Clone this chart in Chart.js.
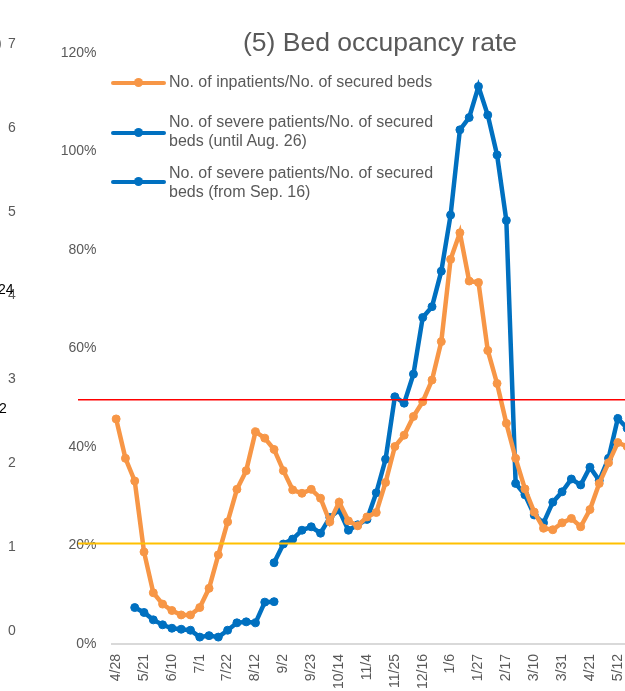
<!DOCTYPE html>
<html>
<head>
<meta charset="utf-8">
<script src="https://cdn.jsdelivr.net/npm/chart.js@4.4.0/dist/chart.umd.min.js"></script>
<style>
html,body{margin:0;padding:0;background:#fff;overflow:hidden;}
#wrap{position:relative;width:625px;height:691px;overflow:hidden;font-family:"Liberation Sans",Arial,sans-serif;color:#595959;}
#c{position:absolute;left:0;top:0;}
#title{position:absolute;left:243px;top:27px;font-size:26.5px;white-space:nowrap;}
.lgline{position:absolute;left:111px;width:55px;height:4px;border-radius:2px;}
.lgdot{position:absolute;width:9px;height:9px;border-radius:50%;}
.lgtext{position:absolute;left:169px;font-size:16px;line-height:18.5px;white-space:nowrap;}
.stray{position:absolute;font-size:14px;line-height:16px;}
</style>
</head>
<body>
<div id="wrap">
  <canvas id="c" width="654" height="691"></canvas>
  <div id="title">(5) Bed occupancy rate</div>
  <div id="legend"></div>
  <div id="stray"></div>
</div>
<script>
//日付（3つおきに表示）
var labels = ["4/28","5/7","5/14","5/21","5/28","6/3","6/10","6/17","6/24","7/1",
  "7/8","7/15","7/22","7/29","8/5","8/12","8/19","8/26","9/2","9/9",
  "9/16","9/23","9/30","10/7","10/14","10/21","10/28","11/4","11/11","11/18",
  "11/25","12/2","12/9","12/16","12/23","12/30","1/6","1/13","1/20","1/27",
  "2/3","2/10","2/17","2/24","3/3","3/10","3/17","3/24","3/31","4/7",
  "4/14","4/21","4/28","5/5","5/12","5/19"];

//入院患者数/確保病床数 (%)
var inpatients = [45.7,37.7,33.1,18.7,10.4,8.1,6.8,5.9,5.9,7.4,
  11.3,18.1,24.8,31.4,35.2,43.1,41.8,39.5,35.2,31.3,
  30.6,31.4,29.6,24.8,28.8,25.0,24.0,25.8,26.7,32.8,
  40.1,42.4,46.2,49.2,53.6,61.4,78.1,83.5,73.7,73.4,
  59.6,52.9,44.8,37.7,31.5,26.8,23.5,23.2,24.6,25.5,
  23.8,27.3,32.6,36.8,40.9,40.1];

//重症患者数/確保病床数 (8/26まで)
var severeOld = [null,null,7.4,6.4,4.9,3.9,3.2,3.0,2.8,1.4,
  1.7,1.4,2.8,4.3,4.5,4.3,8.5,8.6,null,null,
  null,null,null,null,null,null,null,null,null,null,
  null,null,null,null,null,null,null,null,null,null,
  null,null,null,null,null,null,null,null,null,null,
  null,null,null,null,null,null];

//重症患者数/確保病床数 (9/16から)
var severeNew = [null,null,null,null,null,null,null,null,null,null,
  null,null,null,null,null,null,null,16.5,20.3,21.3,
  23.1,23.8,22.5,25.7,27.2,23.1,24.2,25.3,30.7,37.5,
  50.2,48.9,54.8,66.3,68.5,75.7,87.1,104.4,106.9,113.2,
  107.4,99.3,86.0,32.6,30.3,26.2,24.6,28.8,30.9,33.5,
  32.3,35.9,33.2,37.7,45.8,43.8];

var seriesNames = [
  ["No. of inpatients/No. of secured beds"],
  ["No. of severe patients/No. of secured","beds (until Aug. 26)"],
  ["No. of severe patients/No. of secured","beds (from Sep. 16)"]
];
var yTicks = [0,20,40,60,80,100,120];
//基準線
var refLines = [{value:49.6,color:"#ff0000",width:1.5},{value:20.4,color:"#ffc000",width:2}];

var ORANGE = "#f79646", BLUE = "#0070c0", GRAY = "#595959";
var FONT = "'Liberation Sans', Arial, sans-serif";

function lineSet(label, data, color){
  return {label:label, data:data, borderColor:color, backgroundColor:color,
    borderWidth:4.5, pointRadius:4, pointHoverRadius:4, pointBorderWidth:1,
    pointBackgroundColor:color, pointBorderColor:color, tension:0, spanGaps:false};
}

var refPlugin = {
  id:"refLines",
  afterDatasetsDraw:function(chart){
    var ctx = chart.ctx, ys = chart.scales.y;
    for(var i=0;i<refLines.length;i++){
      var py = ys.getPixelForValue(refLines[i].value);
      ctx.save();
      ctx.strokeStyle = refLines[i].color;
      ctx.lineWidth = refLines[i].width;
      ctx.beginPath();
      ctx.moveTo(78, py);
      ctx.lineTo(chart.width, py);
      ctx.stroke();
      ctx.restore();
    }
  }
};

var chart = new Chart(document.getElementById("c").getContext("2d"), {
  type:"line",
  data:{
    labels:labels,
    datasets:[
      lineSet(seriesNames[0].join(" "), inpatients, ORANGE),
      lineSet(seriesNames[1].join(" "), severeOld, BLUE),
      lineSet(seriesNames[2].join(" "), severeNew, BLUE)
    ]
  },
  options:{
    responsive:false,
    animation:false,
    layout:{padding:{top:53,right:9,left:0,bottom:0}},
    plugins:{legend:{display:false},title:{display:false},tooltip:{enabled:false}},
    scales:{
      x:{
        offset:true,
        grid:{display:false,drawTicks:false},
        border:{display:true,color:"#d9d9d9",width:2},
        ticks:{autoSkip:false,minRotation:90,maxRotation:90,padding:10,color:GRAY,
          font:{family:FONT,size:14},
          callback:function(v,i){ return i%3===0 ? labels[i] : ""; }},
        afterFit:function(s){ s.height = 47; }
      },
      y:{
        min:0,max:120,
        grid:{display:false,drawTicks:false},
        border:{display:false},
        afterBuildTicks:function(s){ s.ticks = yTicks.map(function(v){return {value:v};}); },
        ticks:{padding:15,color:GRAY,font:{family:FONT,size:14},
          callback:function(v){ return v+"%"; }},
        afterFit:function(s){ s.width = 111.5; }
      }
    }
  },
  plugins:[refPlugin]
});

//凡例をHTMLで作成
var lg = document.getElementById("legend");
var lineY = [82.7,132.7,181.7];
var textTop = [73.2,113.2,164];
chart.data.datasets.forEach(function(ds,i){
  var l = document.createElement("div");
  l.className = "lgline"; l.style.top = (lineY[i]-2)+"px"; l.style.background = ds.borderColor;
  lg.appendChild(l);
  var d = document.createElement("div");
  d.className = "lgdot"; d.style.left = (138.3-4.5)+"px"; d.style.top = (lineY[i]-4.5)+"px";
  d.style.background = ds.borderColor;
  lg.appendChild(d);
  var t = document.createElement("div");
  t.className = "lgtext"; t.style.top = textTop[i]+"px";
  seriesNames[i].forEach(function(s,j){
    if(j>0) t.appendChild(document.createElement("br"));
    t.appendChild(document.createTextNode(s));
  });
  lg.appendChild(t);
});

//左側にはみ出している隣のグラフの目盛
var stray = [
  {t:")",x:-3,y:43,c:GRAY},{t:"7",x:8,y:43,c:GRAY},{t:"6",x:8,y:127,c:GRAY},
  {t:"5",x:8,y:211,c:GRAY},{t:"4",x:8,y:294,c:GRAY},{t:"3",x:8,y:378,c:GRAY},
  {t:"2",x:8,y:462,c:GRAY},{t:"1",x:8,y:546,c:GRAY},{t:"0",x:8,y:630,c:GRAY},
  {t:"24",x:-2,y:289,c:"#000"},{t:"2",x:-1,y:408,c:"#000"}
];
var sw = document.getElementById("stray");
stray.forEach(function(s){
  var e = document.createElement("span");
  e.className = "stray"; e.textContent = s.t;
  e.style.left = s.x+"px"; e.style.top = (s.y-8)+"px"; e.style.color = s.c;
  sw.appendChild(e);
});
</script>
</body>
</html>
